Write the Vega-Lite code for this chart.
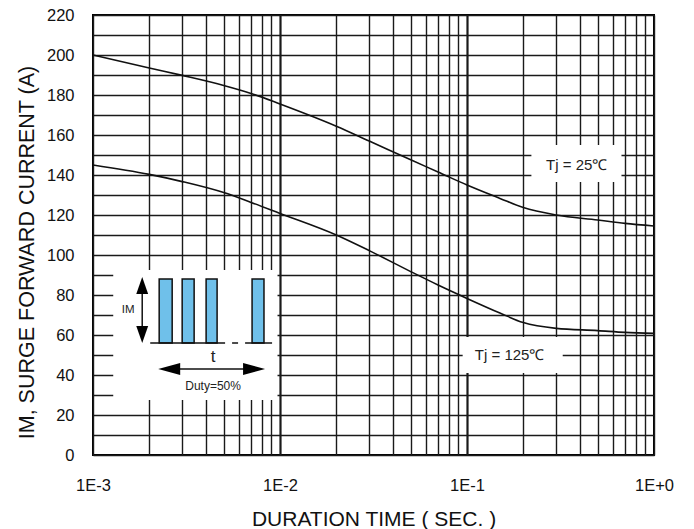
{
  "$schema": "https://vega.github.io/schema/vega-lite/v6.json",
  "width": 561,
  "height": 440,
  "autosize": {"type": "none"},
  "padding": {"left": 93, "top": 15, "right": 40, "bottom": 74},
  "background": "white",
  "config": {"view": {"stroke": "#000", "strokeWidth": 2}, "font": "Liberation Sans"},
  "datasets": {
    "curves": [
      {"series": "25", "x": 0.001, "y": 200},
      {"series": "25", "x": 0.002, "y": 193.5},
      {"series": "25", "x": 0.003, "y": 189.8},
      {"series": "25", "x": 0.005, "y": 184.8},
      {"series": "25", "x": 0.007, "y": 180.8},
      {"series": "25", "x": 0.01, "y": 175.5},
      {"series": "25", "x": 0.02, "y": 164.4},
      {"series": "25", "x": 0.03, "y": 157},
      {"series": "25", "x": 0.05, "y": 147.6},
      {"series": "25", "x": 0.07, "y": 141.5},
      {"series": "25", "x": 0.1, "y": 135},
      {"series": "25", "x": 0.15, "y": 128.3},
      {"series": "25", "x": 0.2, "y": 123.7},
      {"series": "25", "x": 0.3, "y": 120},
      {"series": "25", "x": 0.5, "y": 117.5},
      {"series": "25", "x": 0.7, "y": 115.8},
      {"series": "25", "x": 1, "y": 114.5},
      {"series": "125", "x": 0.001, "y": 145},
      {"series": "125", "x": 0.002, "y": 140.3},
      {"series": "125", "x": 0.003, "y": 136.7},
      {"series": "125", "x": 0.005, "y": 131.2},
      {"series": "125", "x": 0.007, "y": 126.3},
      {"series": "125", "x": 0.01, "y": 120.8},
      {"series": "125", "x": 0.02, "y": 110},
      {"series": "125", "x": 0.03, "y": 102.2},
      {"series": "125", "x": 0.05, "y": 91.7},
      {"series": "125", "x": 0.07, "y": 85},
      {"series": "125", "x": 0.1, "y": 78.3},
      {"series": "125", "x": 0.15, "y": 71},
      {"series": "125", "x": 0.2, "y": 66.2},
      {"series": "125", "x": 0.3, "y": 63.3},
      {"series": "125", "x": 0.5, "y": 62.2},
      {"series": "125", "x": 0.7, "y": 61.3},
      {"series": "125", "x": 1, "y": 60.8}
    ],
    "boxes": [
      {"name": "inset", "x": 0.001283, "x2": 0.0097, "y": 27.5, "y2": 92.5},
      {"name": "tj25", "x": 0.221, "x2": 0.67, "y": 136.5, "y2": 155},
      {"name": "tj125", "x": 0.0948, "x2": 0.325, "y": 41, "y2": 59}
    ],
    "pulses": [
      {"x": 0.002259, "x2": 0.002651, "y": 56, "y2": 88},
      {"x": 0.002998, "x2": 0.003474, "y": 56, "y2": 88},
      {"x": 0.004026, "x2": 0.004609, "y": 56, "y2": 88},
      {"x": 0.00709, "x2": 0.00821, "y": 56, "y2": 88}
    ],
    "hsegs": [
      {"x": 0.002023, "x2": 0.005086, "y": 56},
      {"x": 0.005543, "x2": 0.005967, "y": 56},
      {"x": 0.006506, "x2": 0.00907, "y": 56},
      {"x": 0.0024, "x2": 0.0078, "y": 43}
    ],
    "vsegs": [
      {"x": 0.001833, "y": 60, "y2": 85}
    ],
    "arrowUp": [{"x": 0.001833, "y": 89}],
    "arrowDown": [{"x": 0.001833, "y": 56}],
    "arrowLeft": [{"x": 0.002232, "y": 43}],
    "arrowRight": [{"x": 0.00832, "y": 43}],
    "texts": [
      {"kind": "tj", "x": 0.386, "y": 145, "label": "Tj = 25℃"},
      {"kind": "tj", "x": 0.169, "y": 50, "label": "Tj = 125℃"},
      {"kind": "im", "x": 0.001543, "y": 72.5, "label": "IM"},
      {"kind": "t", "x": 0.004388, "y": 49, "label": "t"},
      {"kind": "duty", "x": 0.004388, "y": 34.5, "label": "Duty=50%"}
    ]
  },
  "encoding": {
    "x": {
      "field": "x",
      "type": "quantitative",
      "scale": {"type": "log", "domain": [0.001, 1], "nice": false},
      "axis": {
        "values": [0.001, 0.002, 0.003, 0.004, 0.005, 0.006, 0.007, 0.008, 0.009, 0.01, 0.02, 0.03, 0.04, 0.05, 0.06, 0.07, 0.08, 0.09, 0.1, 0.2, 0.3, 0.4, 0.5, 0.6, 0.7, 0.8, 0.9, 1],
        "labelExpr": "abs(log(datum.value)/LN10 - round(log(datum.value)/LN10)) < 0.000001 ? ('1E' + (round(log(datum.value)/LN10) < 0 ? '' : '+') + round(log(datum.value)/LN10)) : ''",
        "title": "DURATION TIME ( SEC. )",
        "ticks": false,
        "domain": false,
        "grid": true,
        "gridColor": "#1a1a1a",
        "gridOpacity": 1,
        "gridWidth": {"condition": {"test": "datum.value == 0.01 || datum.value == 0.1", "value": 2.2}, "value": 1.4},
        "labelFont": "Liberation Sans",
        "labelFontSize": 16.5,
        "labelColor": "#111",
        "labelPadding": 22,
        "labelFlush": false,
        "labelOverlap": false,
        "titleFont": "Liberation Sans",
        "titleFontSize": 21,
        "titleFontWeight": "normal",
        "titleColor": "#111",
        "titleY": 64,
        "titleBaseline": "middle"
      }
    },
    "y": {
      "field": "y",
      "type": "quantitative",
      "scale": {"domain": [0, 220], "nice": false, "zero": false},
      "axis": {
        "values": [0, 10, 20, 30, 40, 50, 60, 70, 80, 90, 100, 110, 120, 130, 140, 150, 160, 170, 180, 190, 200, 210, 220],
        "labelExpr": "datum.value % 20 == 0 ? datum.label : ''",
        "title": "IM, SURGE FORWARD CURRENT (A)",
        "ticks": false,
        "domain": false,
        "grid": true,
        "gridColor": "#1a1a1a",
        "gridOpacity": 1,
        "gridWidth": 1.4,
        "labelFont": "Liberation Sans",
        "labelFontSize": 16.5,
        "labelColor": "#111",
        "labelPadding": 19,
        "labelOverlap": false,
        "titleFont": "Liberation Sans",
        "titleFontSize": 21.5,
        "titleFontWeight": "normal",
        "titleColor": "#111",
        "titleX": -66,
        "titleY": 237,
        "titleBaseline": "middle"
      }
    }
  },
  "layer": [
    {
      "data": {"name": "curves"},
      "mark": {"type": "line", "color": "#111", "strokeWidth": 1.6, "interpolate": "monotone"},
      "encoding": {"detail": {"field": "series"}}
    },
    {
      "data": {"name": "boxes"},
      "mark": {"type": "rect", "fill": "white"},
      "encoding": {"x2": {"field": "x2"}, "y2": {"field": "y2"}}
    },
    {
      "data": {"name": "pulses"},
      "mark": {"type": "rect", "fill": "#6fc0ea", "stroke": "#111", "strokeWidth": 1.5},
      "encoding": {"x2": {"field": "x2"}, "y2": {"field": "y2"}}
    },
    {
      "data": {"name": "hsegs"},
      "mark": {"type": "rule", "color": "#111", "strokeWidth": 1.5},
      "encoding": {"x2": {"field": "x2"}}
    },
    {
      "data": {"name": "vsegs"},
      "mark": {"type": "rule", "color": "#111", "strokeWidth": 1.5},
      "encoding": {"y2": {"field": "y2"}}
    },
    {
      "data": {"name": "arrowUp"},
      "mark": {"type": "point", "filled": true, "color": "#000", "opacity": 1, "size": 289, "shape": "M 0 0 L -0.7 2 L 0.7 2 Z"}
    },
    {
      "data": {"name": "arrowDown"},
      "mark": {"type": "point", "filled": true, "color": "#000", "opacity": 1, "size": 289, "shape": "M 0 0 L -0.7 -2 L 0.7 -2 Z"}
    },
    {
      "data": {"name": "arrowLeft"},
      "mark": {"type": "point", "filled": true, "color": "#000", "opacity": 1, "size": 484, "shape": "M 0 0 L 2 -0.55 L 2 0.55 Z"}
    },
    {
      "data": {"name": "arrowRight"},
      "mark": {"type": "point", "filled": true, "color": "#000", "opacity": 1, "size": 484, "shape": "M 0 0 L -2 -0.55 L -2 0.55 Z"}
    },
    {
      "data": {"name": "texts"},
      "transform": [{"filter": "datum.kind == 'tj'"}],
      "mark": {"type": "text", "font": "Liberation Sans", "fontSize": 15, "color": "#222", "baseline": "middle", "align": "center"},
      "encoding": {"text": {"field": "label"}}
    },
    {
      "data": {"name": "texts"},
      "transform": [{"filter": "datum.kind == 'im'"}],
      "mark": {"type": "text", "font": "Liberation Sans", "fontSize": 11.5, "color": "#222", "baseline": "middle", "align": "center"},
      "encoding": {"text": {"field": "label"}}
    },
    {
      "data": {"name": "texts"},
      "transform": [{"filter": "datum.kind == 't'"}],
      "mark": {"type": "text", "font": "Liberation Sans", "fontSize": 17, "color": "#222", "baseline": "middle", "align": "center"},
      "encoding": {"text": {"field": "label"}}
    },
    {
      "data": {"name": "texts"},
      "transform": [{"filter": "datum.kind == 'duty'"}],
      "mark": {"type": "text", "font": "Liberation Sans", "fontSize": 12, "color": "#222", "baseline": "middle", "align": "center"},
      "encoding": {"text": {"field": "label"}}
    }
  ]
}
